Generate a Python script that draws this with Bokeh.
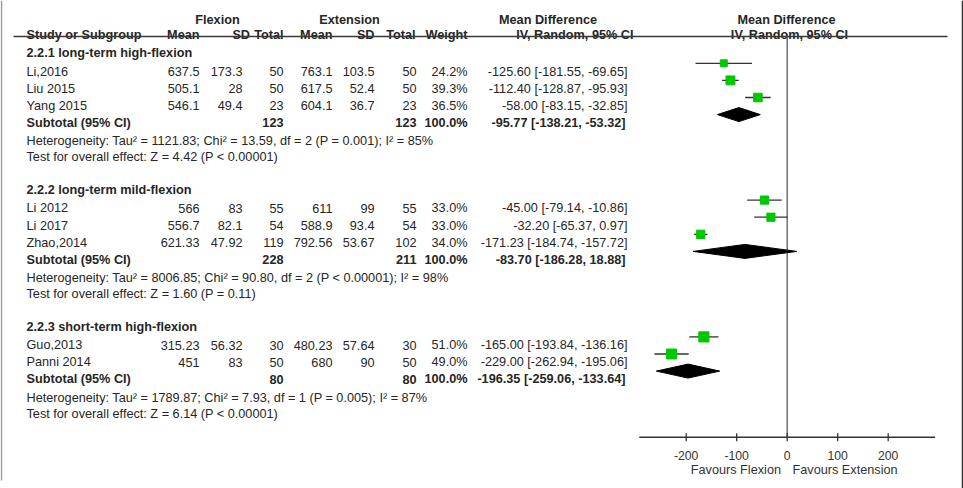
import math

from bokeh.plotting import figure
from bokeh.models import Range1d, ColumnDataSource
from bokeh.core.properties import value
from bokeh.embed import file_html
from bokeh.resources import INLINE

# ---------------- data ----------------
group_titles = [
    "2.2.1 long-term high-flexion",
    "2.2.2 long-term mild-flexion",
    "2.2.3 short-term high-flexion",
]
study_names = [
    ["Li,2016", "Liu 2015", "Yang 2015"],
    ["Li 2012", "Li 2017", "Zhao,2014"],
    ["Guo,2013", "Panni 2014"],
]
flex_mean = [[637.5, 505.1, 546.1], [566, 556.7, 621.33], [315.23, 451]]
flex_sd = [[173.3, 28, 49.4], [83, 82.1, 47.92], [56.32, 83]]
flex_n = [[50, 50, 23], [55, 54, 119], [30, 50]]
ext_mean = [[763.1, 617.5, 604.1], [611, 588.9, 792.56], [480.23, 680]]
ext_sd = [[103.5, 52.4, 36.7], [99, 93.4, 53.67], [57.64, 90]]
ext_n = [[50, 50, 23], [55, 54, 102], [30, 50]]
weight = [[24.2, 39.3, 36.5], [33.0, 33.0, 34.0], [51.0, 49.0]]
md = [[-125.60, -112.40, -58.00], [-45.00, -32.20, -171.23], [-165.00, -229.00]]
md_lo = [[-181.55, -128.87, -83.15], [-79.14, -65.37, -184.74], [-193.84, -262.94]]
md_hi = [[-69.65, -95.93, -32.85], [-10.86, 0.97, -157.72], [-136.16, -195.06]]

sub_flex_n = [123, 228, 80]
sub_ext_n = [123, 211, 80]
sub_md = [-95.77, -83.70, -196.35]
sub_lo = [-138.21, -186.28, -259.06]
sub_hi = [-53.32, 18.88, -133.64]

heterogeneity = [
    "Tau² = 1121.83; Chi² = 13.59, df = 2 (P = 0.001); I² = 85%",
    "Tau² = 8006.85; Chi² = 90.80, df = 2 (P < 0.00001); I² = 98%",
    "Tau² = 1789.87; Chi² = 7.93, df = 1 (P = 0.005); I² = 87%",
]
overall_effect = [
    "Z = 4.42 (P < 0.00001)",
    "Z = 1.60 (P = 0.11)",
    "Z = 6.14 (P < 0.00001)",
]
axis_ticks = [-200, -100, 0, 100, 200]

caption_head = "Fig. 5"
caption_body = "Forest plot for the comparison of hidden blood loss among the three subgroups"

# ---------------- layout constants (screen pixels) ----------------
W, H = 963, 488
FONT = value("Liberation Sans")
FS = "12.7px"
TXT = "#262626"
ZERO_PX = 786.7          # pixel position of MD = 0
PX_PER_UNIT = 0.505      # pixels per unit of mean difference
AXIS_Y = 436.7
HEADER_LINE_Y = 36


def row_base(k):
    """text baseline of table row k"""
    return 54.0 + 17.1 * k


def row_mark(k):
    """vertical centre of the forest mark on table row k"""
    return 45.7 + 17.1 * k


fmt = lambda v: f"{v:g}"

p = figure(width=W, height=H, output_backend="svg", toolbar_location=None,
           x_range=Range1d(0, W), y_range=Range1d(H, 0),
           x_axis_type=None, y_axis_type=None, min_border=0,
           outline_line_color=None, background_fill_color="white",
           border_fill_color="white")
p.grid.visible = False
p.extra_x_ranges = {"md": Range1d(start=(0 - ZERO_PX) / PX_PER_UNIT,
                                  end=(W - ZERO_PX) / PX_PER_UNIT)}


def put(x, y, text, align="left", bold=False, size=FS, color=TXT, font=FONT,
        range_name="default"):
    src = ColumnDataSource(dict(x=x, y=y, text=text))
    p.text(x="x", y="y", text="text", source=src, text_font=font,
           text_font_size=size, text_align=align, text_baseline="alphabetic",
           text_color=color, text_font_style="bold" if bold else "normal",
           x_range_name=range_name)


# ---------------- header ----------------
put([217, 349, 547.5, 786], [19, 19, 19, 19],
    ["Flexion", "Extension", "Mean Difference", "Mean Difference"],
    align="center", bold=True)
put([26], [34.5], ["Study or Subgroup"], bold=True)
put([199, 249.5, 283, 332, 374, 415, 467, 633],
    [34.5] * 8,
    ["Mean", "SD", "Total", "Mean", "SD", "Total", "Weight", "IV, Random, 95% CI"],
    align="right", bold=True)
put([789], [34.5], ["IV, Random, 95% CI"], align="center", bold=True)
p.segment(x0=[13], x1=[947], y0=[HEADER_LINE_Y], y1=[HEADER_LINE_Y],
          line_color="#3a3a3a", line_width=1.3)

# ---------------- table rows ----------------
lab_y, lab_t, lab_b = [], [], []
cols = {c: ([], []) for c in ["fm", "fs", "fn", "em", "es", "en", "w", "ci"]}
bold_cols = {c: ([], []) for c in ["fn", "en", "w", "ci"]}
sq_x, sq_y, sq_s, wl, wh, wy = [], [], [], [], [], []
dia_xs, dia_ys = [], []

for g, title in enumerate(group_titles):
    k0 = 8 * g
    lab_y.append(row_base(k0) - 1.5); lab_t.append(title); lab_b.append(True)
    for i, name in enumerate(study_names[g]):
        k = k0 + 1 + i
        yb = row_base(k)
        lab_y.append(yb); lab_t.append(name); lab_b.append(False)
        for c, v in [("fm", fmt(flex_mean[g][i])), ("fs", fmt(flex_sd[g][i])),
                     ("fn", fmt(flex_n[g][i])), ("em", fmt(ext_mean[g][i])),
                     ("es", fmt(ext_sd[g][i])), ("en", fmt(ext_n[g][i])),
                     ("w", f"{weight[g][i]:.1f}%"),
                     ("ci", f"{md[g][i]:.2f} [{md_lo[g][i]:.2f}, {md_hi[g][i]:.2f}]")]:
            cols[c][0].append(yb); cols[c][1].append(v)
        sq_x.append(md[g][i]); sq_y.append(row_mark(k))
        sq_s.append(1.42 * math.sqrt(weight[g][i]))
        wl.append(md_lo[g][i]); wh.append(md_hi[g][i]); wy.append(row_mark(k))
    ks = k0 + 1 + len(study_names[g])
    yb = row_base(ks)
    lab_y.append(yb); lab_t.append("Subtotal (95% CI)"); lab_b.append(True)
    for c, v in [("fn", fmt(sub_flex_n[g])), ("en", fmt(sub_ext_n[g])),
                 ("w", "100.0%"),
                 ("ci", f"{sub_md[g]:.2f} [{sub_lo[g]:.2f}, {sub_hi[g]:.2f}]")]:
        bold_cols[c][0].append(yb); bold_cols[c][1].append(v)
    ym = row_mark(ks)
    dia_xs.append([sub_lo[g], sub_md[g], sub_hi[g], sub_md[g]])
    dia_ys.append([ym, ym - 7, ym, ym + 7])
    lab_y.append(row_base(ks + 1) + 1); lab_t.append("Heterogeneity: " + heterogeneity[g]); lab_b.append(False)
    lab_y.append(row_base(ks + 2)); lab_t.append("Test for overall effect: " + overall_effect[g]); lab_b.append(False)

for b in (False, True):
    idx = [j for j, bb in enumerate(lab_b) if bb == b]
    put([26] * len(idx), [lab_y[j] for j in idx], [lab_t[j] for j in idx], bold=b)

col_x = {"fm": 199, "fs": 242, "fn": 283, "em": 332, "es": 374, "en": 416, "w": 467, "ci": 627}
for c, (ys, ts) in cols.items():
    put([col_x[c]] * len(ys), ys, ts, align="right")
for c, (ys, ts) in bold_cols.items():
    put([col_x[c] - (2 if c == "ci" else 0)] * len(ys), ys, ts, align="right", bold=True)

# ---------------- forest panel ----------------
p.segment(x0=[0], x1=[0], y0=[HEADER_LINE_Y], y1=[AXIS_Y], x_range_name="md",
          line_color="#5a5a5a", line_width=1.3)
p.segment(x0=wl, x1=wh, y0=wy, y1=wy, x_range_name="md",
          line_color="#333333", line_width=1.3)
p.scatter(x=sq_x, y=sq_y, size=sq_s, marker="square", x_range_name="md",
          fill_color="#00c800", line_color="#00c800")
p.patches(xs=dia_xs, ys=dia_ys, x_range_name="md",
          fill_color="black", line_color="black")

# x axis of the forest panel
p.segment(x0=[-293], x1=[293], y0=[AXIS_Y], y1=[AXIS_Y], x_range_name="md",
          line_color="#333333", line_width=1.4)
p.segment(x0=axis_ticks, x1=axis_ticks, y0=[AXIS_Y - 4] * len(axis_ticks),
          y1=[AXIS_Y + 4] * len(axis_ticks), x_range_name="md",
          line_color="#333333", line_width=1.3)
put(axis_ticks, [455] * len(axis_ticks), [str(t) for t in axis_ticks],
    align="center", size="12.2px", color="#333333", range_name="md")
put([780.5], [469.5], ["Favours Flexion"], align="right", color="#333333")
put([792], [469.5], ["Favours Extension"], align="left", color="#333333")

# page frame and caption (the caption runs off the bottom of the page)
p.segment(x0=[1], x1=[1], y0=[0], y1=[480], line_color="#9a9a9a", line_width=1.5)
p.segment(x0=[962], x1=[962], y0=[0], y1=[H], line_color="#333333", line_width=1.5)
put([12], [495], [caption_head], bold=True, size="15px", color="#111111",
    font=value("Noto Sans"))
put([57], [495], [caption_body], size="15px", color="#555555",
    font=value("Noto Sans"))

open("out.html", "w").write(file_html(p, INLINE))
